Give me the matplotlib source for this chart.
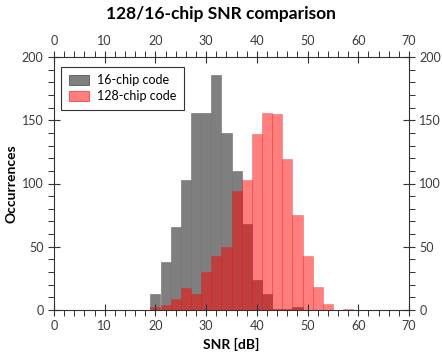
import matplotlib.pyplot as plt
from matplotlib.ticker import MultipleLocator

plt.rcParams["font.family"] = ["Lato", "DejaVu Sans"]

# --- Data ---------------------------------------------------------------
BIN_LEFT = [19, 21, 23, 25, 27, 29, 31, 33, 35, 37,
            39, 41, 43, 45, 47, 49, 51, 53, 55, 57]
BIN_WIDTH = 2
COUNTS_16 = [13, 38, 66, 103, 156, 156, 186, 140, 110, 68,
             24, 13, 1, 1, 2, 0, 0, 0, 0, 0]
COUNTS_128 = [2, 4, 9, 17, 13, 30, 43, 50, 94, 103,
              139, 156, 155, 119, 75, 43, 18, 5, 0, 1]
LABELS = ["16-chip code", "128-chip code"]

fig = plt.figure(figsize=(4.42, 3.55), dpi=100)
ax = fig.add_axes([54 / 442, 1 - 310 / 355, 355 / 442, 253 / 355])

ax.bar(BIN_LEFT, COUNTS_16, width=BIN_WIDTH, align="edge",
       color="#7f7f7f", edgecolor="#6e6e6e", linewidth=0.4, label=LABELS[0])
ax.bar(BIN_LEFT, COUNTS_128, width=BIN_WIDTH, align="edge",
       color=(1, 0, 0, 0.5), edgecolor=(0.9, 0.1, 0.1, 0.5), linewidth=0.4,
       label=LABELS[1])

ax.set_xlim(0, 70)
ax.set_ylim(0, 200)
ax.xaxis.set_major_locator(MultipleLocator(10))
ax.xaxis.set_minor_locator(MultipleLocator(2))
ax.yaxis.set_major_locator(MultipleLocator(50))
ax.yaxis.set_minor_locator(MultipleLocator(10))

for s in ax.spines.values():
    s.set_color("#333333")
    s.set_linewidth(0.8)

ax.tick_params(which="major", direction="inout", length=8, width=0.8,
               color="#333333", labelcolor="#3a3a3a", labelsize=9,
               top=True, right=True, labeltop=True, labelright=True)
ax.tick_params(which="minor", direction="out", length=4, width=0.7,
               color="#333333", top=True, right=True)

ax.set_xlabel("SNR [dB]", fontsize=10, fontweight="bold", labelpad=4)
ax.set_ylabel("Occurrences", fontsize=10, fontweight="bold", labelpad=3)
fig.text(0.5, 1 - 14 / 355, "128/16-chip SNR comparison", ha="center",
         va="center", fontsize=12.5, fontweight="bold")

leg = ax.legend(loc="upper left", fontsize=9, frameon=True, fancybox=False,
                edgecolor="#333333", framealpha=1, handlelength=1.6,
                handleheight=0.9, borderpad=0.6, labelspacing=0.3,
                handletextpad=0.7, borderaxespad=0,
                bbox_to_anchor=(7 / 355, 1 - 10 / 253))
leg.get_frame().set_linewidth(0.8)
leg.legend_handles[0].set_edgecolor("#222222")
leg.legend_handles[1].set_edgecolor("red")

fig.savefig("out.png", dpi=100)
